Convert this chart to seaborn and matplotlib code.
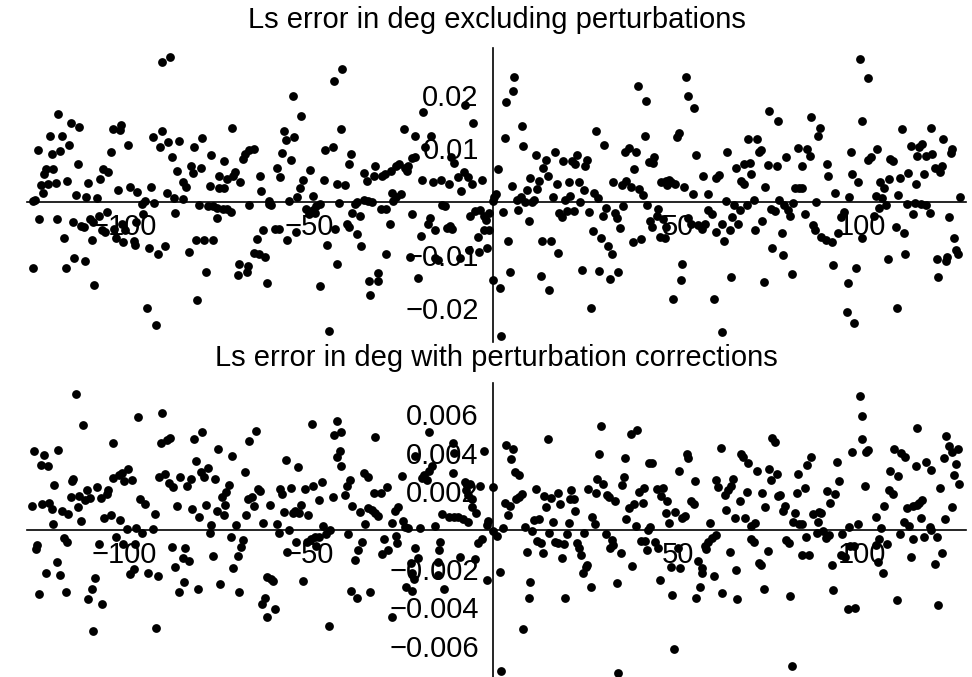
import matplotlib
matplotlib.use("Agg")
import matplotlib.pyplot as plt
import seaborn as sns
import pandas as pd
from matplotlib.ticker import FixedLocator, FixedFormatter

# ---------------- data (x in deg of Ls range, y in millidegrees) ----------------
# Top panel: error excluding perturbations (y values in 1e-3 deg)
top_points = [
    (-89.97,26.25),(-87.71,27.06),(-118.0,16.4),(-114.6,14.7),(-112.3,14.0),(-120.3,12.4),(-116.9,12.3),(-103.3,13.6),(-101.0,14.4),(-101.4,13.4),(-92.4,12.1),(-89.8,13.2),(-123.6,9.75),(-119.8,8.9),(-117.5,9.5),(-115.1,10.7),(-103.7,9.25),(-99.1,10.6),(-90.5,10.25),(-88.2,11.2),(-85.4,11.3),(-87.3,8.4),(-112.8,7.1),(-121.4,6.1),(-119.4,6.2),(-121.8,5.1),(-105.8,6.1),(-104.4,5.5),(-85.9,5.75),(-106.6,4.3),(-122.7,3.1),(-120.7,3.25),(-118.7,3.5),(-115.6,3.9),(-122.1,1.6),(-109.9,3.5),(-113.2,1.25),(-110.5,0.8),(-107.6,0.75),(-101.8,2.1),(-98.6,2.8),(-96.7,1.8),(-92.9,2.8),(-88.6,1.6),(-86.6,0.75),(-124.3,0.3),(-125.0,0.2),(-94.5,0.2),(-95.4,-0.4),(-92.0,-0.3),(-123.2,-3.25),(-118.4,-3.3),(-114.1,-3.9),(-111.8,-4.6),(-111.1,-4.75),(-109.4,-3.3),(-108.5,-3.9),(-107.1,-2.6),(-104.7,-1.9),(-106.1,-5.3),(-105.3,-5.6),(-102.8,-5.1),(-100.8,-4.1),(-99.9,-5.4),(-94.9,-2.4),(-96.8,-3.75),(-86.3,-2.1),(-116.4,-6.75),(-108.9,-7.25),(-102.4,-6.9),(-100.5,-7.6),(-97.6,-7.4),(-97.2,-8.1),(-93.4,-8.6),(-91.0,-9.75),(-89.1,-8.4),(-125.0,-12.4),(-116.0,-12.4),(-113.7,-10.5),(-110.7,-11.2),(-108.4,-15.7),(-93.9,-19.9),(-91.5,-23.1),
    (-43.2,22.7),(-54.4,19.9),(-52.2,16.0),(-71.0,13.9),(-56.8,13.2),(-56.2,11.6),(-54.0,12.1),(-78.9,12.0),(-81.2,10.2),(-76.5,8.7),(-73.2,7.6),(-68.0,8.0),(-67.4,8.9),(-66.2,9.6),(-64.9,9.9),(-57.3,9.1),(-54.9,7.9),(-45.6,9.6),(-43.6,10.25),(-82.1,6.6),(-81.6,5.4),(-79.4,6.4),(-74.5,4.9),(-70.0,5.6),(-70.5,4.8),(-72.3,4.3),(-76.9,2.9),(-74.3,2.6),(-73.0,2.6),(-68.6,3.6),(-63.3,4.75),(-62.9,2.0),(-58.6,6.25),(-57.9,4.6),(-49.7,5.9),(-51.6,4.1),(-52.5,2.6),(-53.2,0.9),(-48.8,1.1),(-46.0,4.0),(-84.3,3.75),(-83.4,2.8),(-84.1,0.5),(-79.8,-0.7),(-77.3,-0.8),(-76.0,-0.9),(-74.9,-1.1),(-73.4,-1.3),(-72.3,-1.4),(-71.2,-1.9),(-74.9,-3.1),(-66.2,-0.6),(-60.8,0.2),(-60.2,-0.6),(-60.9,-0.4),(-55.4,0.1),(-50.8,-1.4),(-50.1,-2.3),(-49.0,-1.6),(-48.1,-0.9),(-47.0,-0.5),(-48.5,-2.2),(-80.7,-7.25),(-78.4,-7.25),(-76.0,-7.25),(-82.5,-9.4),(-62.4,-5.4),(-59.2,-5.1),(-58.1,-5.2),(-64.2,-7.0),(-55.9,-7.2),(-53.5,-5.75),(-45.0,-8.1),(-64.9,-9.6),(-63.7,-9.9),(-61.9,-10.4),(-68.9,-11.6),(-66.5,-12.1),(-66.9,-13.1),(-69.4,-13.75),(-77.9,-13.2),(-61.5,-15.3),(-80.3,-18.4),(-46.9,-15.8),(-44.6,-24.25),
    (-41.0,24.8),(-19.0,16.75),(-7.7,18.2),(-5.5,14.7),(-41.4,13.6),(-24.2,13.6),(-21.3,12.4),(-16.8,12.4),(-38.6,8.9),(-39.1,7.1),(-21.3,8.4),(-22.0,8.1),(-18.6,10.3),(-11.4,8.4),(-10.8,7.2),(-32.0,6.75),(-35.2,5.3),(-34.3,3.9),(-32.5,4.8),(-30.2,4.8),(-29.4,5.2),(-27.8,5.8),(-26.5,6.6),(-25.6,7.1),(-24.0,6.4),(-23.5,5.75),(-23.1,6.7),(-42.5,3.4),(-40.3,3.1),(-19.3,4.1),(-16.3,3.6),(-14.2,4.1),(-11.9,3.4),(-9.5,4.7),(-8.1,5.5),(-7.0,4.6),(-5.9,3.4),(-3.2,4.1),(-8.8,2.0),(-27.4,1.7),(-26.5,0.9),(-25.1,1.4),(-27.2,0.2),(-41.9,-0.3),(-37.6,-0.4),(-36.9,0.0),(-35.0,0.4),(-32.9,0.0),(-34.0,0.2),(-30.5,-1.4),(-29.0,-1.4),(-38.3,-2.1),(-36.2,-2.6),(-39.7,-4.1),(-39.2,-4.7),(-37.1,-6.1),(-35.8,-8.3),(-28.1,-4.2),(-22.2,-2.3),(-13.9,-0.6),(-13.2,-0.9),(-17.1,-3.1),(-17.7,-4.2),(-15.7,-5.3),(-19.7,-6.4),(-12.7,-5.0),(-11.8,-4.6),(-11.3,-5.1),(-6.3,-2.7),(-5.0,-1.75),(-3.6,-1.6),(-2.5,-2.7),(-1.2,-2.2),(-1.9,-3.4),(-2.5,-5.3),(-1.2,-5.3),(-4.3,-6.6),(-6.5,-9.1),(-9.0,-10.5),(-3.8,-9.5),(-1.6,-8.6),(-15.0,-10.9),(-15.7,-10.6),(-22.6,-10.3),(-29.2,-9.8),(-42.3,-11.75),(-33.8,-14.9),(-31.4,-14.9),(-31.2,-13.3),(-33.4,-17.5),(-20.4,-14.25),(-43.0,-5.2),
    (5.7,23.3),(5.4,20.75),(3.4,18.75),(7.7,14.2),(3.1,12.0),(8.0,10.5),(1.2,6.1),(5.0,2.9),(0.7,1.4),(0.2,0.9),(-0.2,0.2),(6.3,0.3),(7.4,0.9),(8.5,0.0),(9.2,2.2),(9.9,4.5),(10.6,0.0),(11.1,0.3),(11.9,2.3),(12.4,3.9),(11.5,8.75),(13.5,6.25),(14.4,7.9),(14.8,4.9),(16.8,9.25),(17.2,3.25),(16.1,0.9),(18.9,7.6),(21.2,7.6),(22.2,7.1),(22.7,8.75),(20.4,3.6),(20.8,1.1),(19.4,0.4),(23.1,3.6),(24.8,6.7),(25.5,7.8),(24.5,2.2),(23.6,0.0),(27.8,13.25),(30.1,10.6),(27.4,1.6),(28.3,0.6),(32.4,3.6),(34.9,3.1),(36.1,3.8),(37.2,2.8),(35.7,9.25),(36.8,10.0),(38.6,9.4),(38.1,6.1),(39.1,21.7),(41.0,12.3),(39.5,2.3),(40.7,1.25),(42.3,7.4),(2.5,-2.0),(6.8,-1.6),(9.7,-3.7),(4.1,-7.3),(13.3,-7.4),(15.6,-7.4),(17.5,-9.6),(17.9,-2.1),(18.6,-2.8),(20.1,-1.8),(21.8,-1.8),(26.0,-2.0),(27.0,-5.5),(29.3,-6.75),(29.8,-2.6),(30.5,-1.25),(33.1,-2.2),(33.4,-3.0),(34.3,-5.0),(35.2,-0.75),(31.1,-8.25),(32.1,-9.9),(37.8,-7.6),(40.0,-7.0),(24.1,-12.8),(28.7,-13.0),(31.6,-14.5),(33.8,-13.25),(12.9,-13.9),(15.2,-16.6),(26.4,-19.9),(4.5,-13.1),(1.8,-16.1),(-0.2,-14.6),(2.1,-25.1),
    (41.5,18.9),(52.3,23.4),(52.7,19.8),(54.5,17.6),(49.9,12.1),(50.3,12.9),(43.6,8.3),(43.2,7.3),(54.9,8.7),(45.4,3.6),(46.7,3.9),(47.6,4.1),(48.3,3.6),(47.1,3.1),(49.4,3.25),(51.8,2.8),(54.2,1.4),(56.8,4.8),(60.5,4.4),(61.2,5.0),(58.3,1.4),(63.5,9.25),(65.8,6.4),(68.0,7.1),(69.6,7.3),(67.1,3.9),(67.9,3.3),(70.0,5.1),(69.1,11.7),(71.6,11.75),(72.1,9.25),(72.7,9.7),(74.7,17.0),(77.1,15.2),(74.4,6.9),(76.8,6.7),(79.5,8.3),(73.8,2.8),(82.7,10.0),(81.8,2.6),(82.9,2.6),(63.1,0.2),(65.3,-0.6),(66.9,-1.6),(68.7,-0.7),(70.7,0.3),(77.4,0.4),(78.9,-0.7),(81.3,-0.2),(41.8,-0.7),(44.7,-1.4),(44.3,-2.6),(42.4,-3.6),(43.1,-4.7),(45.9,-3.3),(46.7,-4.7),(45.1,-6.7),(46.5,-6.9),(52.8,-3.1),(53.6,-4.1),(55.6,-4.4),(56.5,-5.2),(57.5,-4.1),(58.1,-1.6),(59.2,-2.3),(60.3,-5.7),(61.9,-4.1),(62.5,-7.3),(64.1,-5.3),(64.8,-2.8),(66.4,-4.2),(71.1,-5.3),(72.9,-3.6),(75.3,-1.4),(76.4,-1.8),(79.8,-1.6),(80.5,-2.7),(78.2,-5.8),(75.6,-8.7),(78.6,-10.0),(80.9,-13.6),(73.3,-15.0),(64.4,-14.2),(51.2,-11.6),(50.8,-14.7),(48.8,-18.2),(59.8,-18.3),(62.1,-24.4),
    (99.4,26.7),(101.7,23.25),(99.9,15.1),(86.1,15.9),(88.6,13.9),(88.1,12.4),(85.1,9.8),(85.8,8.6),(83.8,6.7),(90.4,7.1),(90.8,4.8),(97.0,9.4),(97.4,5.1),(98.9,3.75),(101.7,7.9),(102.3,8.3),(104.1,9.9),(107.7,8.0),(108.4,7.7),(110.8,13.6),(113.2,10.5),(114.8,8.6),(115.5,10.25),(116.4,10.75),(117.3,8.6),(119.1,8.9),(118.8,13.9),(122.0,11.7),(124.4,9.9),(124.0,9.1),(119.7,6.4),(121.1,5.6),(121.8,6.7),(116.9,5.2),(112.6,5.4),(114.6,3.4),(110.3,4.5),(107.4,4.25),(105.0,3.6),(105.9,2.6),(83.6,2.6),(92.6,1.7),(96.5,0.9),(103.7,1.1),(105.5,0.6),(109.8,1.2),(87.5,0.0),(104.6,-1.25),(106.6,-0.6),(112.2,-0.4),(114.3,-0.2),(115.9,-0.5),(117.3,-0.7),(118.4,-2.2),(113.7,-2.4),(126.5,0.9),(123.6,-2.8),(84.5,-2.4),(86.6,-4.4),(87.2,-5.3),(89.0,-6.6),(90.2,-7.2),(91.8,-7.6),(93.4,-5.9),(94.4,-2.8),(95.1,-1.9),(100.1,-6.9),(103.2,-2.7),(109.2,-4.8),(111.3,-5.9),(92.2,-11.9),(98.3,-12.4),(96.1,-15.3),(95.8,-20.75),(97.9,-22.7),(107.1,-10.8),(111.6,-9.8),(109.4,-19.9),(120.2,-10.75),(122.7,-11.1),(123.1,-10.4),(120.7,-14.1),(124.9,-6.75),(125.4,-9.1),(126.1,-9.9),
]

# Bottom panel: error with perturbation corrections (y values in 1e-3 deg)
bot_points = [
    (-113.2,7.03),(-111.4,5.43),(-96.3,5.86),(-89.8,6.03),(-103.3,4.52),(-90.1,4.52),(-88.6,4.66),(-87.8,4.74),(-124.6,4.10),(-121.8,3.86),(-118.0,4.14),(-122.7,3.38),(-120.9,3.31),(-119.1,2.31),(-113.9,2.66),(-114.4,2.55),(-103.1,2.71),(-101.5,2.84),(-100.8,2.93),(-99.2,3.14),(-100.1,2.52),(-98.1,2.59),(-90.7,2.72),(-89.2,2.88),(-88.0,2.41),(-86.8,2.21),(-84.9,2.76),(-107.6,2.24),(-110.3,2.07),(-104.6,2.07),(-104.9,1.86),(-106.4,1.64),(-114.6,1.72),(-112.4,1.78),(-110.8,1.55),(-109.4,1.64),(-112.8,1.17),(-125.2,1.26),(-122.3,1.34),(-120.5,1.38),(-119.8,1.10),(-117.1,0.98),(-115.3,0.83),(-111.8,0.47),(-119.4,0.29),(-105.6,0.60),(-103.7,0.76),(-101.4,0.52),(-95.8,1.59),(-94.5,1.34),(-91.9,0.83),(-85.9,1.24),(-99.5,0.05),(-96.8,0.10),(-95.4,-0.14),(-92.4,0.05),(-102.4,-0.34),(-100.5,-0.72),(-107.0,-0.72),(-116.4,-0.40),(-115.6,-0.60),(-123.7,-0.78),(-124.1,-1.0),(-97.2,-0.74),(-87.2,-0.90),(-118.4,-1.67),(-121.3,-2.21),(-117.5,-2.34),(-123.2,-3.33),(-116.0,-3.22),(-108.1,-2.48),(-109.0,-3.05),(-110.0,-3.57),(-106.2,-3.84),(-108.5,-5.21),(-91.6,-5.05),(-98.6,-2.28),(-97.6,-2.03),(-93.8,-2.21),(-91.0,-2.38),(-86.3,-1.93),(-85.4,-3.21),
    (-78.9,5.09),(-81.2,4.72),(-74.6,4.17),(-70.9,3.83),(-66.2,4.62),(-64.3,5.12),(-80.7,3.59),(-77.4,3.19),(-79.4,3.0),(-78.5,2.72),(-82.1,2.66),(-83.2,2.28),(-75.6,2.64),(-71.8,2.31),(-72.5,1.95),(-73.6,1.69),(-72.7,1.29),(-67.5,3.02),(-63.8,2.10),(-63.3,2.02),(-65.5,1.72),(-66.6,1.59),(-64.9,1.24),(-60.6,1.29),(-67.1,0.76),(-74.9,1.0),(-73.2,0.79),(-77.9,1.29),(-81.7,1.09),(-79.8,0.69),(-56.3,3.60),(-53.1,3.24),(-57.9,2.10),(-57.2,1.86),(-54.9,2.17),(-51.1,2.10),(-48.8,2.28),(-46.5,2.50),(-47.3,1.55),(-43.6,1.72),(-56.8,0.95),(-54.4,0.86),(-53.7,1.0),(-52.2,1.29),(-52.6,0.88),(-50.4,0.79),(-62.4,0.34),(-58.6,0.31),(-58.2,-0.17),(-55.3,0.02),(-76.5,0.28),(-76.9,-0.17),(-69.9,0.28),(-71.2,-0.34),(-68.0,-0.52),(-68.5,-0.90),(-69.4,-1.34),(-70.5,-1.95),(-76.1,-1.34),(-83.6,-0.95),(-84.3,-1.45),(-82.5,-1.59),(-83.9,-2.67),(-80.2,-3.07),(-74.2,-2.78),(-68.9,-3.21),(-61.3,-2.45),(-60.4,-2.55),(-59.7,-2.64),(-61.9,-3.53),(-62.8,-3.84),(-59.1,-4.09),(-61.5,-4.48),(-51.6,-2.64),(-55.9,-1.12),(-53.5,-0.64),(-50.6,-0.64),(-49.6,-0.47),(-48.4,-0.34),(-47.2,-0.34),(-46.1,0.21),(-45.4,-0.21),(-44.3,0.0),(-48.1,-0.83),(-44.6,-4.97),(-49.3,5.47),(-43.2,4.91),
    (-42.5,5.66),(-41.2,5.05),(-41.6,4.09),(-42.3,3.79),(-41.4,3.31),(-32.0,4.83),(-17.5,5.05),(-10.9,4.48),(-10.6,4.0),(-2.5,4.09),(-21.3,3.83),(-16.6,3.31),(-17.4,3.07),(-18.8,2.83),(-19.3,2.67),(-18.0,2.59),(-24.9,2.79),(-35.2,2.93),(-34.1,2.72),(-39.0,2.59),(-39.6,2.28),(-40.3,1.81),(-10.9,2.93),(-7.6,2.5),(-6.4,2.38),(-3.5,2.28),(-7.3,2.07),(-6.8,1.81),(-5.7,1.59),(-5.7,1.21),(-4.6,0.86),(-28.9,2.21),(-30.5,1.90),(-32.3,1.93),(-25.8,1.21),(-26.7,0.98),(-24.5,0.48),(-24.0,0.17),(-23.1,0.09),(-27.6,0.34),(-38.3,1.24),(-36.2,0.91),(-34.9,0.31),(-34.0,1.16),(-32.9,1.03),(-32.0,0.90),(-31.2,0.72),(-19.9,0.09),(-15.7,0.21),(-13.8,0.83),(-12.1,0.69),(-10.6,0.69),(-9.5,0.66),(-8.2,0.55),(-6.8,0.40),(-1.4,0.48),(-1.8,0.26),(-39.4,-0.21),(-35.6,-0.64),(-36.7,-1.03),(-37.6,-1.55),(-29.6,-0.48),(-26.4,-0.31),(-26.2,-0.69),(-28.5,-1.03),(-30.1,-1.24),(-21.3,-0.95),(-14.4,-0.60),(-14.8,-1.03),(-20.4,-1.47),(-22.4,-1.72),(-22.0,-2.21),(-21.5,-2.55),(-15.0,-1.64),(-15.0,-2.33),(-9.1,-1.38),(-5.0,-1.52),(-4.1,-0.66),(-3.2,-0.48),(-23.6,-2.93),(-22.0,-3.14),(-13.5,-3.03),(-38.6,-3.14),(-37.1,-3.53),(-33.5,-3.19),(-27.4,-4.52),(-1.6,-2.59),
    (29.3,5.38),(37.2,4.97),(39.0,5.17),(14.8,4.69),(3.4,4.38),(5.4,4.19),(4.9,3.67),(28.7,3.93),(35.7,3.74),(5.9,3.0),(6.9,2.84),(35.4,2.76),(34.9,2.34),(0.0,2.21),(11.6,2.10),(28.2,2.62),(29.8,2.38),(25.8,2.14),(27.8,1.90),(30.7,1.81),(31.4,1.69),(33.1,1.48),(21.1,2.07),(17.5,1.90),(13.7,1.76),(15.5,1.64),(20.8,1.59),(21.9,1.59),(18.1,1.33),(14.3,1.21),(22.2,0.97),(7.8,1.86),(7.0,1.72),(6.1,1.59),(3.1,1.41),(4.5,1.26),(4.1,0.79),(11.0,0.52),(12.5,0.57),(16.1,0.40),(20.4,0.38),(26.8,0.69),(27.5,0.29),(36.1,0.55),(36.7,1.16),(38.1,1.34),(39.4,1.95),(40.5,1.38),(40.8,2.16),(38.7,0.21),(8.7,0.17),(10.5,-0.03),(2.5,0.09),(-0.2,-0.03),(0.9,-0.31),(15.2,-0.17),(19.9,-0.21),(24.6,-0.14),(30.5,-0.21),(11.7,-0.55),(13.0,-0.66),(16.7,-0.60),(17.6,-0.66),(19.2,-0.74),(22.8,-0.69),(23.1,-0.95),(23.7,-1.29),(32.1,-0.52),(32.5,-0.78),(31.6,-0.91),(34.5,-1.17),(40.0,-0.57),(9.2,-1.12),(13.4,-1.17),(18.5,-1.47),(25.5,-1.83),(25.0,-1.90),(24.2,-2.24),(26.4,-2.93),(33.4,-2.76),(37.6,-1.84),(1.8,-2.19),(9.9,-2.67),(9.7,-3.53),(19.4,-3.53),(8.1,-5.12),(2.1,-7.29),(33.8,-7.38),(42.3,3.45),
    (75.6,4.74),(76.4,4.57),(61.7,4.22),(52.4,3.93),(52.8,3.74),(43.1,3.48),(50.3,3.05),(67.1,3.93),(67.8,3.76),(69.1,3.48),(71.5,3.07),(74.7,3.14),(76.8,2.88),(75.3,2.59),(82.7,2.90),(54.7,2.53),(60.5,2.59),(61.0,2.24),(65.0,2.62),(64.4,2.28),(63.7,2.07),(62.8,1.81),(68.7,1.98),(66.9,1.52),(72.9,1.90),(73.8,1.21),(77.7,1.81),(77.1,1.76),(79.1,1.24),(78.5,0.98),(82.4,1.90),(44.3,2.10),(46.1,2.16),(45.4,1.76),(47.1,1.52),(53.6,1.52),(54.3,1.34),(46.7,0.86),(49.4,0.95),(47.6,0.38),(51.2,0.64),(51.9,0.72),(58.8,0.34),(63.1,1.03),(65.5,0.64),(68.2,0.60),(70.0,0.21),(71.1,0.38),(81.3,0.43),(81.9,0.86),(82.9,0.31),(42.4,0.17),(42.0,0.0),(41.1,-0.57),(41.8,-1.03),(43.8,-0.64),(44.7,-0.95),(50.1,-0.95),(48.1,-1.93),(50.7,-1.98),(55.6,-1.60),(56.6,-1.98),(56.5,-2.21),(57.5,-0.83),(58.3,-0.60),(59.2,-0.43),(60.3,-0.26),(57.8,-1.0),(59.9,-2.38),(64.1,-1.14),(65.9,-2.07),(69.8,-0.47),(70.7,-0.64),(72.1,-1.69),(72.6,-1.81),(74.4,-1.07),(79.5,-0.52),(80.1,-0.69),(45.2,-2.59),(48.5,-3.36),(54.9,-3.53),(56.1,-2.93),(62.1,-3.28),(66.2,-3.57),(73.4,-3.07),(80.5,-3.41),(49.0,-6.17),(81.0,-7.03),
    (99.4,6.95),(99.9,5.91),(114.9,5.29),(122.9,4.86),(123.6,4.34),(100.1,4.69),(101.7,4.14),(101.2,4.05),(97.4,4.05),(108.7,4.19),(110.7,3.97),(111.7,3.76),(86.1,3.79),(85.1,3.34),(93.3,3.52),(114.6,3.31),(117.3,3.52),(118.8,3.10),(122.2,3.74),(124.4,4.05),(126.0,4.17),(125.4,3.40),(124.9,2.83),(126.3,2.36),(121.1,2.19),(107.7,3.05),(109.7,2.79),(93.8,2.53),(90.4,2.03),(92.6,1.86),(91.3,1.38),(84.4,2.16),(100.9,2.28),(107.4,2.07),(108.4,1.84),(106.0,1.26),(103.7,0.69),(112.1,1.16),(113.7,1.24),(114.8,1.31),(115.5,1.41),(116.4,1.55),(116.0,0.60),(111.3,0.43),(112.8,0.22),(122.5,0.55),(124.5,1.17),(86.7,0.81),(88.4,0.95),(88.9,0.86),(88.1,0.43),(83.6,0.31),(96.5,0.14),(98.9,0.31),(105.1,0.09),(118.4,0.17),(118.8,0.0),(87.8,-0.14),(89.5,-0.05),(90.2,-0.43),(91.1,-0.26),(84.8,-0.34),(94.7,-0.21),(110.3,-0.21),(113.7,-0.48),(116.8,-0.38),(120.2,-0.38),(104.6,-0.48),(103.7,-0.78),(106.8,-0.72),(96.7,-0.81),(97.8,-0.81),(83.8,-1.29),(85.7,-1.29),(94.4,-1.29),(95.3,-1.38),(91.9,-1.81),(104.3,-1.64),(105.7,-2.21),(113.2,-1.38),(121.8,-1.21),(119.8,-1.78),(92.2,-3.10),(96.2,-4.07),(98.0,-4.02),(109.4,-3.62),(120.7,-3.88),
]

titles = ["Ls error in deg excluding perturbations",
          "Ls error in deg with perturbation corrections"]
x_major = [-100, -50, 50, 100]
x_labels = ["\u2212100", "\u221250", "50", "100"]
top_y_major = [-0.02, -0.01, 0.01, 0.02]
top_y_labels = ["\u22120.02", "\u22120.01", "0.01", "0.02"]
bot_y_major = [-0.006, -0.004, -0.002, 0.002, 0.004, 0.006]
bot_y_labels = ["\u22120.006", "\u22120.004", "\u22120.002", "0.002", "0.004", "0.006"]

# ---------------- plotting ----------------
sns.set_style("white")
plt.rcParams['font.family'] = ['Liberation Sans', 'DejaVu Sans']
plt.rcParams['text.color'] = 'black'

W, H = 972, 677
fig = plt.figure(figsize=(W / 100, H / 100), dpi=100)
ax_left, ax_right = 27, 966
ax1 = fig.add_axes([ax_left / W, 1 - 342 / H, (ax_right - ax_left) / W, 294 / H])
ax2 = fig.add_axes([ax_left / W, 0.0, (ax_right - ax_left) / W, 294 / H])

df_top = pd.DataFrame(top_points, columns=["x", "y"])
df_top["y"] = df_top["y"] * 1e-3
df_bot = pd.DataFrame(bot_points, columns=["x", "y"])
df_bot["y"] = df_bot["y"] * 1e-3

x_minor = [v for v in range(-120, 130, 10) if v not in (0, -100, -50, 50, 100)]
top_minor = [round(k * 0.002, 4) for k in range(-14, 15) if k % 5 != 0]
bot_minor = [round(k * 0.0005, 5) for k in range(-15, 16) if k % 4 != 0]

for ax, df, ylim, ymaj, ylab, ymin in [
    (ax1, df_top, (-0.02631, 0.02882), top_y_major, top_y_labels, top_minor),
    (ax2, df_bot, (-0.007605, 0.007605), bot_y_major, bot_y_labels, bot_minor),
]:
    sns.scatterplot(data=df, x="x", y="y", ax=ax, color="black", s=40,
                    linewidth=0, zorder=3, legend=False)
    ax.set_xlim(-126.5, 128.2)
    ax.set_ylim(*ylim)
    ax.set_facecolor("none")
    for s in ["top", "right"]:
        ax.spines[s].set_visible(False)
    ax.spines["left"].set_position(("data", 0))
    ax.spines["bottom"].set_position(("data", 0))
    for s in ["left", "bottom"]:
        ax.spines[s].set_linewidth(1.2)
        ax.spines[s].set_color("black")
    ax.xaxis.set_major_locator(FixedLocator(x_major))
    ax.xaxis.set_major_formatter(FixedFormatter(x_labels))
    ax.xaxis.set_minor_locator(FixedLocator(x_minor))
    ax.yaxis.set_major_locator(FixedLocator(ymaj))
    ax.yaxis.set_major_formatter(FixedFormatter(ylab))
    ax.yaxis.set_minor_locator(FixedLocator(ymin))
    ax.tick_params(which="major", direction="in", length=6, width=1,
                   labelsize=21, colors="black", labelcolor="black")
    ax.tick_params(which="minor", direction="in", length=3.5, width=0.8,
                   colors="black")
    ax.tick_params(axis="x", which="major", pad=8)
    ax.tick_params(axis="y", which="major", pad=10.5)
    ax.set_xlabel("")
    ax.set_ylabel("")
    ax.grid(False)

cx = (ax_left + ax_right) / 2 / W
fig.text(cx, 1 - 20 / H, titles[0], ha="center", va="center", fontsize=21,
         color="black")
fig.text(cx, 1 - 358 / H, titles[1], ha="center", va="center", fontsize=21,
         color="black")

fig.savefig("out.png", dpi=100)
